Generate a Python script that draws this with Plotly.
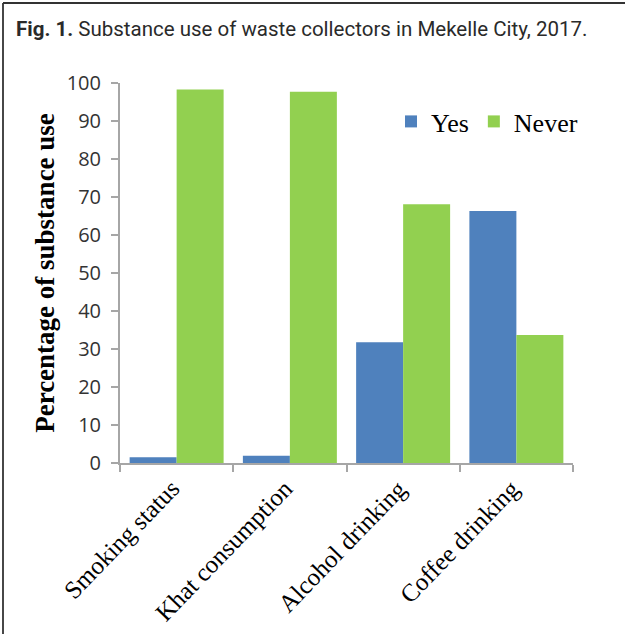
import plotly.graph_objects as go

categories = ["Smoking status", "Khat consumption", "Alcohol drinking", "Coffee drinking"]
yes_values = [1.5, 1.9, 31.8, 66.3]
never_values = [98.3, 97.7, 68.1, 33.7]
series_names = ["Yes", "Never"]
y_ticks = [0, 10, 20, 30, 40, 50, 60, 70, 80, 90, 100]

W, H = 625, 634
L, R, T, B = 120, 52, 83, 171
PW, PH = W - L - R, H - T - B


def px_x(p):
    return (p - L) / PW


def px_y(p):
    return (H - B - p) / PH


SERIF = "Times New Roman, Liberation Serif, serif"

fig = go.Figure()
fig.add_trace(go.Bar(x=categories, y=yes_values, name=series_names[0],
                     marker=dict(color="#4F81BD", line=dict(width=0))))
fig.add_trace(go.Bar(x=categories, y=never_values, name=series_names[1],
                     marker=dict(color="#92D050", line=dict(width=0))))

# category labels, rotated like the original axis labels
for cat in categories:
    fig.add_annotation(
        x=cat, xref="x", y=0, yref="paper", text=cat, showarrow=False,
        textangle=-46, xanchor="right", yanchor="top", xshift=11, yshift=-9,
        font=dict(family=SERIF, size=25, color="black"),
    )

axis_col = "#A6A6A6"
fig.update_layout(
    width=W, height=H,
    margin=dict(l=L, r=R, t=T, b=B, autoexpand=False),
    paper_bgcolor="white", plot_bgcolor="white",
    barmode="group", bargap=0.17, bargroupgap=0,
    title=dict(
        text="<b>Fig. 1.</b> Substance use of waste collectors in Mekelle City, 2017.",
        font=dict(family="Roboto", size=20.5, color="#2a2a2a"),
        x=16 / W, xanchor="left", xref="container",
        y=1 - 29 / H, yanchor="middle", yref="container",
    ),
    legend=dict(
        orientation="h", x=px_x(391), y=px_y(98), xanchor="left", yanchor="top",
        font=dict(family=SERIF, size=26, color="black"),
        bgcolor="rgba(0,0,0,0)", itemwidth=30, tracegroupgap=0,
    ),
    xaxis=dict(
        type="category", categoryorder="array", categoryarray=categories,
        range=[-0.5, len(categories) - 0.5], autorange=False,
        showline=True, linecolor=axis_col, linewidth=2,
        ticks="outside", ticklen=7, tickwidth=2, tickcolor=axis_col,
        tickson="boundaries", showgrid=False, showticklabels=False,
        automargin=False,
    ),
    yaxis=dict(
        range=[0, 100], autorange=False, tickvals=y_ticks, showline=True, linecolor=axis_col, linewidth=2,
        ticks="outside", ticklen=7, tickwidth=2, tickcolor=axis_col, showgrid=False,
        zeroline=False, ticklabelstandoff=6,
        tickfont=dict(family="Open Sans, Liberation Sans, sans-serif", size=20, color="#333333"),
        title=dict(text="<b>Percentage of substance use</b>", standoff=4,
                   font=dict(family=SERIF, size=27, color="black")),
        automargin=False,
    ),
    shapes=[
        dict(type="line", xref="paper", yref="paper", x0=px_x(3), x1=px_x(W), y0=px_y(3), y1=px_y(3),
             line=dict(color="#333333", width=1.8)),
        dict(type="line", xref="paper", yref="paper", x0=px_x(3), x1=px_x(3), y0=px_y(3), y1=px_y(H),
             line=dict(color="#333333", width=1.8)),
    ],
    showlegend=True,
)

fig.write_html("out.html")
